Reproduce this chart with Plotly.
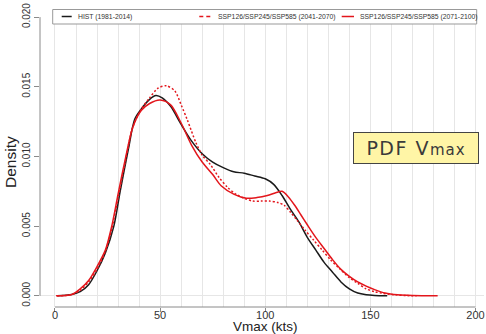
import plotly.graph_objects as go

# ---- data ----
hist_x = [1, 8, 12, 16, 20, 24, 28, 31, 35, 38, 42, 45, 48, 51, 55, 60, 65, 70, 75, 80,
          85, 90, 95, 100, 104, 108, 112, 116, 120, 124, 128, 132, 136, 140, 144, 148, 152, 158]
hist_y = [0.0, 0.0001, 0.0003, 0.0008, 0.0018, 0.0031, 0.0050, 0.0075, 0.0106, 0.0127, 0.0136,
          0.0141, 0.01437, 0.0142, 0.0136, 0.0123, 0.0111, 0.0102, 0.0096, 0.0092,
          0.0089, 0.0088, 0.0086, 0.0084, 0.0080, 0.0072, 0.0062, 0.0053, 0.0042, 0.0033,
          0.0024, 0.0017, 0.0010, 0.0005, 0.0002, 0.00008, 0.00003, 0.0]

mid_x = [1, 8, 12, 16, 20, 24, 27, 30, 33, 37, 41, 45, 49, 53, 57, 60, 63, 67, 70, 74, 78,
         82, 86, 90, 94, 98, 102, 106, 109, 112, 115, 119, 123, 127, 131, 135, 140, 144,
         148, 152, 156, 162, 167, 172]
mid_y = [0.0, 0.0001, 0.0004, 0.0010, 0.0019, 0.0032, 0.0048, 0.0070, 0.0093, 0.0121, 0.0134,
         0.0142, 0.0149, 0.01507, 0.0147, 0.0137, 0.0126, 0.0110, 0.0101, 0.0094, 0.0085,
         0.0078, 0.0073, 0.0070, 0.0068, 0.0068, 0.0068, 0.0067, 0.0065, 0.0060, 0.00545,
         0.0047, 0.0040, 0.0033, 0.0026, 0.0020, 0.0013, 0.0009, 0.0005, 0.0003, 0.00018,
         0.00007, 0.00002, 0.0]

late_x = [0.5, 8, 12, 16, 20, 24, 27, 30, 33, 37, 41, 45, 50, 55, 60, 65, 70, 75, 79, 85,
          91, 96, 101, 105, 108, 111, 114, 117, 120, 124, 128, 132, 136, 140, 144, 148,
          152, 157, 163, 170, 182]
late_y = [0.0, 0.0001, 0.0005, 0.0011, 0.0021, 0.0033, 0.0050, 0.0073, 0.0095, 0.0121, 0.0133,
          0.0138, 0.01405, 0.0137, 0.0124, 0.0108, 0.0096, 0.0087, 0.0079, 0.0073,
          0.0070, 0.00705, 0.0072, 0.0074, 0.0075, 0.0071, 0.0065, 0.0058, 0.0051, 0.0042,
          0.0034, 0.0026, 0.0019, 0.0014, 0.0010, 0.0007, 0.00045, 0.0002, 0.00007,
          0.00002, 0.0]

names = ["HIST (1981-2014)",
         "SSP126/SSP245/SSP585 (2041-2070)",
         "SSP126/SSP245/SSP585 (2071-2100)"]
x_ticks = [0, 50, 100, 150, 200]
y_ticks = [0.0, 0.005, 0.010, 0.015, 0.020]

BLACK = "#1a1a1a"
RED = "#e3161c"
GRID = "#e6e6e6"
AXIS = "#8a8a8a"
TXT = "#333333"
FONT = "Liberation Sans, Arial, sans-serif"

fig = go.Figure()
fig.add_trace(go.Scatter(x=hist_x, y=hist_y, mode="lines", name=names[0],
                         line=dict(color=BLACK, width=1.5, shape="spline", smoothing=0.8)))
fig.add_trace(go.Scatter(x=mid_x, y=mid_y, mode="lines", name=names[1],
                         line=dict(color=RED, width=1.5, dash="2px,2px", shape="spline", smoothing=0.8)))
fig.add_trace(go.Scatter(x=late_x, y=late_y, mode="lines", name=names[2],
                         line=dict(color=RED, width=1.5, shape="spline", smoothing=0.8)))

W, H = 486, 334
ML, MR, MT, MB = 40, 2, 9, 27
PW, PH = W - ML - MR, H - MT - MB


def px_x(p):
    return (p - ML) / PW


def px_y(p):
    return (H - MB - p) / PH


shapes = [
    dict(type="line", xref="x", yref="paper", x0=x_ticks[0], x1=x_ticks[-1], y0=0, y1=0,
         line=dict(color=AXIS, width=1)),
    dict(type="line", xref="paper", yref="y", x0=0, x1=0, y0=y_ticks[0], y1=y_ticks[-1],
         line=dict(color=AXIS, width=1)),
    dict(type="rect", xref="paper", yref="paper", x0=px_x(52.7), x1=px_x(476.7),
         y0=px_y(24), y1=px_y(9.5), fillcolor="white", line=dict(color="#999999", width=1),
         layer="above"),
    dict(type="line", xref="paper", yref="paper", x0=px_x(61.7), x1=px_x(71.7),
         y0=px_y(16.5), y1=px_y(16.5), line=dict(color=BLACK, width=1.5), layer="above"),
    dict(type="line", xref="paper", yref="paper", x0=px_x(199.3), x1=px_x(211.7),
         y0=px_y(16.5), y1=px_y(16.5), line=dict(color=RED, width=1.5, dash="4px,3px"),
         layer="above"),
    dict(type="line", xref="paper", yref="paper", x0=px_x(341.7), x1=px_x(354),
         y0=px_y(16.5), y1=px_y(16.5), line=dict(color=RED, width=1.5), layer="above"),
]

annotations = []
for xp, txt in zip([76, 216, 358.3], names):
    annotations.append(dict(text=txt, xref="paper", yref="paper", x=px_x(xp), y=px_y(16.5),
                            xanchor="left", yanchor="middle", showarrow=False,
                            font=dict(family=FONT, size=6.8, color=TXT)))
annotations.append(dict(text="Vmax (kts)", xref="x", yref="paper", x=100, y=px_y(327),
                        xanchor="center", yanchor="middle", showarrow=False,
                        font=dict(family=FONT, size=13.5, color="#222222")))
annotations.append(dict(text="Density", xref="paper", yref="paper", x=px_x(10), y=px_y(162),
                        xanchor="center", yanchor="middle", showarrow=False, textangle=-90,
                        font=dict(family=FONT, size=15.5, color="#222222")))
annotations.append(dict(text="<span style='letter-spacing:1.5px'>PDF V</span>"
                             "<span style='font-size:15px;letter-spacing:1px'>max</span>",
                        xref="paper", yref="paper", x=px_x(416), y=px_y(148),
                        xanchor="center", yanchor="middle", showarrow=False,
                        width=124, height=30, borderpad=0, borderwidth=1,
                        bordercolor="#444444", bgcolor="#fff5a6",
                        font=dict(family="DejaVu Sans, sans-serif", size=19, color="#3a3a3a")))

fig.update_layout(
    width=W, height=H,
    margin=dict(l=ML, r=MR, t=MT, b=MB, pad=0),
    paper_bgcolor="white", plot_bgcolor="white",
    showlegend=False,
    shapes=shapes, annotations=annotations,
    xaxis=dict(range=[-7.13, 204.04], tickvals=x_ticks, ticktext=[str(v) for v in x_ticks],
               showgrid=True, gridcolor=GRID, gridwidth=1, zeroline=False, showline=False,
               ticks="outside", ticklen=4, tickcolor=AXIS, ticklabelstandoff=-6,
               minor=dict(dtick=10, tick0=0, showgrid=True, gridcolor=GRID, gridwidth=1, ticks=""),
               tickfont=dict(family=FONT, size=11, color=TXT)),
    yaxis=dict(range=[-0.0008, 0.02058], tickvals=y_ticks,
               ticktext=["%.3f" % v for v in y_ticks], tickangle=-90,
               showgrid=False, zeroline=True, zerolinecolor=GRID, zerolinewidth=1,
               showline=False, ticks="outside", ticklen=5, tickcolor=AXIS,
               tickfont=dict(family=FONT, size=10, color=TXT)),
)

fig.write_html("out.html", config={"displayModeBar": False},
               post_script="document.body.style.margin='0';document.body.style.overflow='hidden';")
